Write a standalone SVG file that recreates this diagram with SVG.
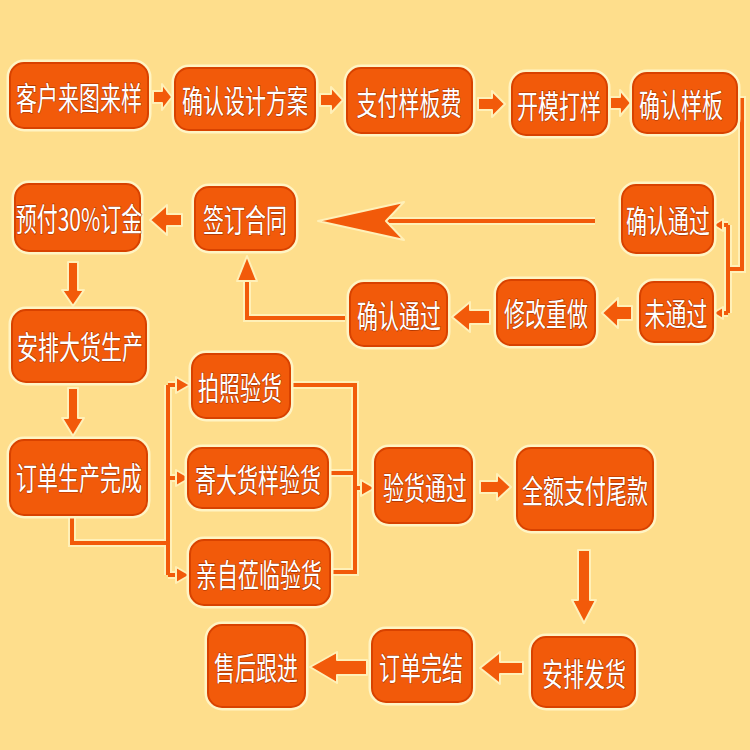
<svg xmlns="http://www.w3.org/2000/svg" width="750" height="750" viewBox="0 0 750 750">
<style>
.glow{fill:none;stroke:#FFF4C4;stroke-width:7}
.box{fill:#F25A0A;stroke:#D84200;stroke-width:2}
.t{font-family:"Noto Sans CJK SC","Noto Sans",sans-serif;font-size:21px;fill:#FFFFFF;text-anchor:middle;dominant-baseline:central;paint-order:stroke;stroke:#A83200;stroke-width:0.8}
.fa{fill:#F25A0A;stroke:#FFF0B8;stroke-width:2;stroke-linejoin:round}
.lg{fill:none;stroke:#FFF0B8;stroke-width:8;stroke-linejoin:miter}
.ln{fill:none;stroke:#F25A0A;stroke-width:4;stroke-linejoin:miter}
</style>
<rect width="750" height="750" fill="#FEDE8C"/>
<g id="connectors">
  <path class="fa" d="M153,91 L162,91 L162,84 L172,97 L162,110 L162,103 L153,103 Z"/>
  <path class="fa" d="M320,94 L331,94 L331,87 L343,100 L331,113 L331,106 L320,106 Z"/>
  <path class="fa" d="M478,98 L492,98 L492,91 L505,104 L492,117 L492,110 L478,110 Z"/>
  <path class="fa" d="M610,97 L620,97 L620,90 L631,103 L620,116 L620,109 L610,109 Z"/>
  <path class="fa" d="M182,214 L167,214 L167,205 L150,220 L167,235 L167,226 L182,226 Z"/>
  <path class="lg" d="M595,221 L360,221" stroke-width="12"/>
  <path class="ln" d="M595,221 L360,221" stroke-width="7"/>
  <path class="fa" d="M318,221 L404,202 L386,221 L404,240 Z"/>
  <path class="fa" d="M490,310 L470,310 L470,302 L452,317 L470,332 L470,324 L490,324 Z"/>
  <path class="fa" d="M632,306 L618,306 L618,298 L602,313 L618,328 L618,320 L632,320 Z"/>
  <path class="fa" d="M68,262 L78,262 L78,290 L84,290 L73,306 L62,290 L68,290 Z"/>
  <path class="fa" d="M68,388 L78,388 L78,418 L84,418 L73,436 L62,418 L68,418 Z"/>
  <path class="lg" d="M345,318 L247,318 L247,278"/>
  <path class="ln" d="M345,318 L247,318 L247,278" stroke-width="5"/>
  <path class="fa" d="M247,256 L257,281 L237,281 Z"/>
  <path class="lg" d="M737,100 L742,100 L742,269 L728,269 M728,225 L728,313 M728,225 L720,225 M728,313 L720,313" stroke-width="6"/>
  <path class="ln" d="M737,100 L742,100 L742,269 L728,269 M728,225 L728,313 M728,225 L720,225 M728,313 L720,313" stroke-width="3"/>
  <path class="fa" d="M713,225 L723,219 L723,231 Z"/>
  <path class="fa" d="M713,313 L723,307 L723,319 Z"/>
  <path class="lg" d="M72,515 L72,543 L168,543 M168,385 L168,575 M168,385 L178,385 M168,478 L178,478 M168,575 L178,575"/>
  <path class="ln" d="M72,515 L72,543 L168,543 M168,385 L168,575 M168,385 L178,385 M168,478 L178,478 M168,575 L178,575"/>
  <path class="fa" d="M190,385 L176,377 L176,393 Z"/>
  <path class="fa" d="M190,478 L176,470 L176,486 Z"/>
  <path class="fa" d="M190,575 L176,567 L176,583 Z"/>
  <path class="lg" d="M290,385 L355,385 L355,572 L330,572 M328,473 L355,473 M355,488 L363,488"/>
  <path class="ln" d="M290,385 L355,385 L355,572 L330,572 M328,473 L355,473 M355,488 L363,488"/>
  <path class="fa" d="M375,488 L361,480 L361,496 Z"/>
  <path class="fa" d="M480,481 L497,481 L497,474 L511,487 L497,500 L497,493 L480,493 Z"/>
  <path class="fa" d="M578,550 L590,550 L590,600 L596,600 L584,623 L572,600 L578,600 Z"/>
  <path class="fa" d="M367,660 L337,660 L337,652 L310,667 L337,683 L337,675 L367,675 Z"/>
  <path class="fa" d="M523,662 L500,662 L500,652 L480,668 L500,684 L500,674 L523,674 Z"/>
</g>
<g id="n1"><rect class="glow" x="10" y="63" width="138" height="65" rx="14"/><rect class="box" x="10" y="63" width="138" height="65" rx="14"/><text class="t" transform="translate(79,96) scale(1,1.5)">客户来图来样</text></g>
<g id="n2"><rect class="glow" x="175" y="68" width="140" height="62" rx="14"/><rect class="box" x="175" y="68" width="140" height="62" rx="14"/><text class="t" transform="translate(245,99) scale(1,1.5)">确认设计方案</text></g>
<g id="n3"><rect class="glow" x="347" y="68" width="125" height="65" rx="14"/><rect class="box" x="347" y="68" width="125" height="65" rx="14"/><text class="t" transform="translate(409,101) scale(1,1.5)">支付样板费</text></g>
<g id="n4"><rect class="glow" x="512" y="73" width="95" height="62" rx="14"/><rect class="box" x="512" y="73" width="95" height="62" rx="14"/><text class="t" transform="translate(559,104) scale(1,1.5)">开模打样</text></g>
<g id="n5"><rect class="glow" x="633" y="73" width="104" height="60" rx="14"/><rect class="box" x="633" y="73" width="104" height="60" rx="14"/><text class="t" transform="translate(681,103) scale(1,1.5)">确认样板</text></g>
<g id="n6"><rect class="glow" x="15" y="184" width="125" height="67" rx="14"/><rect class="box" x="15" y="184" width="125" height="67" rx="14"/><text class="t" transform="translate(79,217) scale(1,1.5)">预付30%订金</text></g>
<g id="n7"><rect class="glow" x="195" y="187" width="100" height="63" rx="14"/><rect class="box" x="195" y="187" width="100" height="63" rx="14"/><text class="t" transform="translate(245,218) scale(1,1.5)">签订合同</text></g>
<g id="n8"><rect class="glow" x="622" y="185" width="91" height="68" rx="14"/><rect class="box" x="622" y="185" width="91" height="68" rx="14"/><text class="t" transform="translate(668,219) scale(1,1.5)">确认通过</text></g>
<g id="n9"><rect class="glow" x="12" y="310" width="134" height="72" rx="14"/><rect class="box" x="12" y="310" width="134" height="72" rx="14"/><text class="t" transform="translate(80,345) scale(1,1.5)">安排大货生产</text></g>
<g id="n10"><rect class="glow" x="350" y="283" width="97" height="63" rx="14"/><rect class="box" x="350" y="283" width="97" height="63" rx="14"/><text class="t" transform="translate(399,314) scale(1,1.5)">确认通过</text></g>
<g id="n11"><rect class="glow" x="497" y="280" width="98" height="65" rx="14"/><rect class="box" x="497" y="280" width="98" height="65" rx="14"/><text class="t" transform="translate(546,312) scale(1,1.5)">修改重做</text></g>
<g id="n12"><rect class="glow" x="640" y="282" width="73" height="60" rx="14"/><rect class="box" x="640" y="282" width="73" height="60" rx="14"/><text class="t" transform="translate(676,312) scale(1,1.5)">未通过</text></g>
<g id="n13"><rect class="glow" x="10" y="440" width="137" height="75" rx="14"/><rect class="box" x="10" y="440" width="137" height="75" rx="14"/><text class="t" transform="translate(79,476) scale(1,1.5)">订单生产完成</text></g>
<g id="n14"><rect class="glow" x="192" y="354" width="98" height="64" rx="14"/><rect class="box" x="192" y="354" width="98" height="64" rx="14"/><text class="t" transform="translate(240,386) scale(1,1.5)">拍照验货</text></g>
<g id="n15"><rect class="glow" x="188" y="448" width="140" height="60" rx="14"/><rect class="box" x="188" y="448" width="140" height="60" rx="14"/><text class="t" transform="translate(258,478) scale(1,1.5)">寄大货样验货</text></g>
<g id="n16"><rect class="glow" x="190" y="540" width="140" height="65" rx="14"/><rect class="box" x="190" y="540" width="140" height="65" rx="14"/><text class="t" transform="translate(259,573) scale(1,1.5)">亲自莅临验货</text></g>
<g id="n17"><rect class="glow" x="375" y="448" width="97" height="75" rx="14"/><rect class="box" x="375" y="448" width="97" height="75" rx="14"/><text class="t" transform="translate(425,486) scale(1,1.5)">验货通过</text></g>
<g id="n18"><rect class="glow" x="517" y="448" width="136" height="82" rx="14"/><rect class="box" x="517" y="448" width="136" height="82" rx="14"/><text class="t" transform="translate(585,489) scale(1,1.5)">全额支付尾款</text></g>
<g id="n19"><rect class="glow" x="208" y="625" width="97" height="82" rx="14"/><rect class="box" x="208" y="625" width="97" height="82" rx="14"/><text class="t" transform="translate(256,666) scale(1,1.5)">售后跟进</text></g>
<g id="n20"><rect class="glow" x="372" y="630" width="100" height="72" rx="14"/><rect class="box" x="372" y="630" width="100" height="72" rx="14"/><text class="t" transform="translate(421,666) scale(1,1.5)">订单完结</text></g>
<g id="n21"><rect class="glow" x="532" y="637" width="103" height="70" rx="14"/><rect class="box" x="532" y="637" width="103" height="70" rx="14"/><text class="t" transform="translate(584,672) scale(1,1.5)">安排发货</text></g>
</svg>
